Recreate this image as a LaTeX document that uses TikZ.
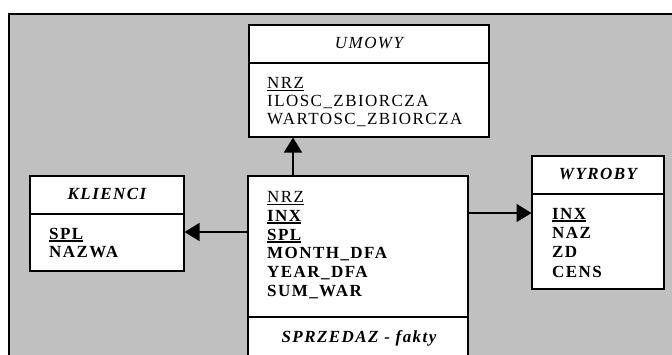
\documentclass[tikz,border=0pt]{standalone}
\usepackage{fontspec}
\setmainfont{Liberation Serif}
\newfontfamily\fsp[LetterSpace=8.5]{Liberation Serif}
\usetikzlibrary{arrows.meta}
\newcommand\ulin[2][0.8pt]{\setbox0\hbox{#2}\rlap{\rule[-2.8pt]{\wd0}{#1}}\box0}
\tikzset{
  ent/.style={draw=black, fill=white, line width=1.6pt},
  fld/.style={anchor=base west, inner sep=0pt, font=\fontsize{17}{18}\fsp},
  ttl/.style={anchor=base, inner sep=0pt, font=\fontsize{17}{18}\fsp},
  conn/.style={line width=1.3pt, -{Triangle[length=15pt,width=18pt]}, shorten >=0.5pt}
}
\begin{document}
\begin{tikzpicture}[x=1pt,y=-1pt]
\useasboundingbox (0,0) rectangle (672,354);
\clip (0,0) rectangle (672,354);
\fill[fill={rgb,255:red,192;green,192;blue,192}] (9,14) rectangle (680,360);
\draw[line width=2pt] (9,362) -- (9,14) -- (680,14);
% UMOWY
\draw[ent] (249,25) rectangle (489,137);
\draw[line width=1.6pt] (249,63) -- (489,63);
\node[ttl] (umt) at (369,48) {\itshape UMOWY};
\node[fld] (u1) at (267,88) {\ulin[0.7pt]{NRZ}};
\node[fld] (u2) at (267,106) {ILOSC\_ZBIORCZA};
\node[fld] (u3) at (267,124) {WARTOSC\_ZBIORCZA};
\coordinate (ubot) at (293,137);
% KLIENCI
\draw[ent] (30,176) rectangle (184,271);
\draw[line width=1.6pt] (30,214) -- (184,214);
\node[ttl] (kt) at (107,199) {\bfseries\itshape KLIENCI};
\node[fld] (k1) at (49,239) {\bfseries\ulin[1.6pt]{SPL}};
\node[fld] (k2) at (49,257) {\bfseries NAZWA};
\coordinate (kright) at (184,232);
% WYROBY
\draw[ent] (532,156) rectangle (664,289);
\draw[line width=1.6pt] (532,194) -- (664,194);
\node[ttl] (wt) at (598,179) {\bfseries\itshape WYROBY};
\node[fld] (w1) at (552,219) {\bfseries\ulin[1.6pt]{INX}};
\node[fld] (w2) at (552,238) {\bfseries NAZ};
\node[fld] (w3) at (552,257) {\bfseries ZD};
\node[fld] (w4) at (552,277) {\bfseries CENS};
\coordinate (wleft) at (532,213);
% SPRZEDAZ
\draw[ent] (248,176) rectangle (468,370);
\draw[line width=1.6pt] (248,317) -- (468,317);
\node[ttl] (st) at (359,342) {\bfseries\itshape SPRZEDAZ - fakty};
\node[fld] (s1) at (267,202) {\ulin[0.7pt]{NRZ}};
\node[fld] (s2) at (267,221) {\bfseries\ulin[1.6pt]{INX}};
\node[fld] (s3) at (267,240) {\bfseries\ulin[1.6pt]{SPL}};
\node[fld] (s4) at (267,258) {\bfseries MONTH\_DFA};
\node[fld] (s5) at (267,277) {\bfseries YEAR\_DFA};
\node[fld] (s6) at (267,296) {\bfseries SUM\_WAR};
\coordinate (stop) at (293,176);
\coordinate (sleft) at (248,232);
\coordinate (sright) at (468,213);
% connectors
\draw[conn] (stop) -- (ubot);
\draw[conn] (sleft) -- (kright);
\draw[conn] (sright) -- (wleft);
\end{tikzpicture}
\end{document}
